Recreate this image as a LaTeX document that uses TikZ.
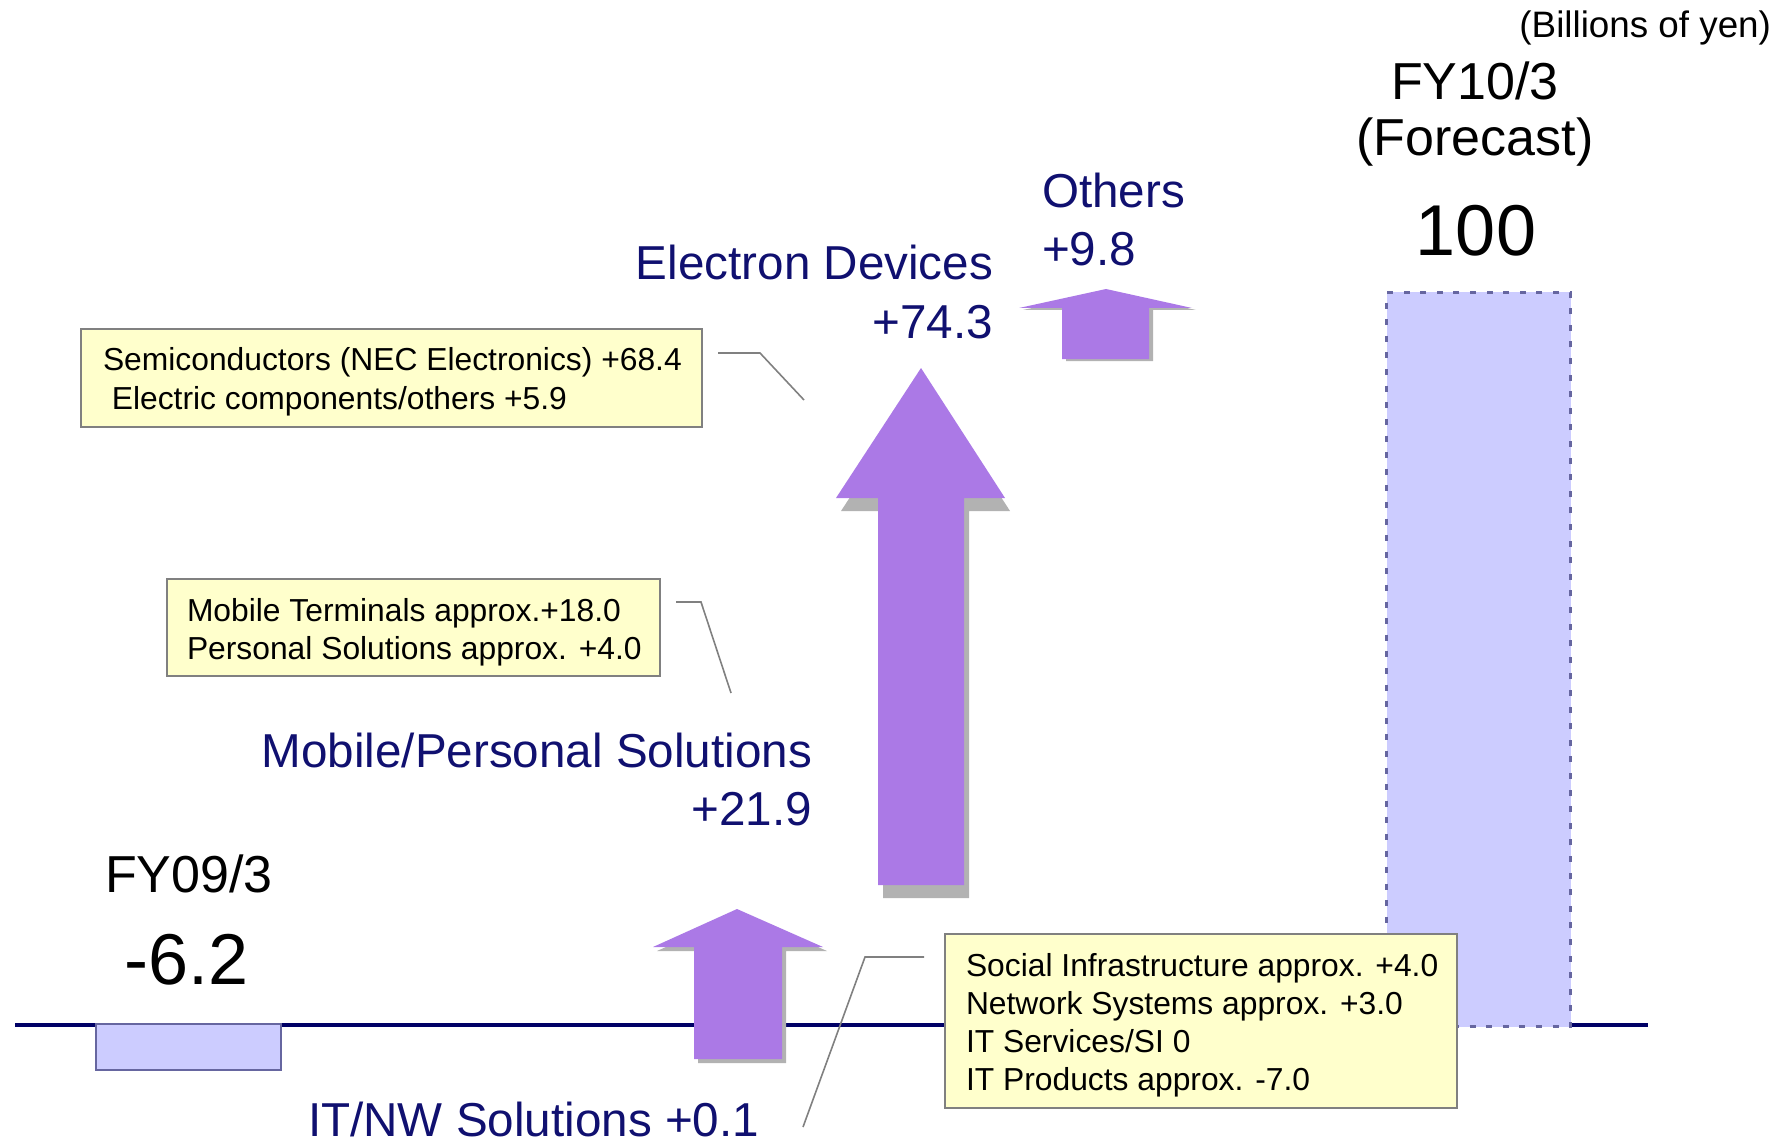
\documentclass[tikz,border=0pt]{standalone}
\usepackage{fontspec}
\setmainfont{Liberation Sans}
\definecolor{navytext}{RGB}{16,16,112}
\definecolor{axisnavy}{RGB}{0,0,102}
\definecolor{arrowpurple}{RGB}{171,121,230}
\definecolor{shadowgray}{RGB}{178,178,178}
\definecolor{barfill}{RGB}{204,204,255}
\definecolor{barline}{RGB}{102,102,160}
\definecolor{calloutfill}{RGB}{255,255,204}
\definecolor{calloutline}{RGB}{128,128,128}
\newcommand\fsz[1]{\fontsize{#1pt}{#1pt}\selectfont}
\begin{document}
\begin{tikzpicture}[x=0.5pt,y=-0.5pt,
  lbl/.style={inner sep=0pt, outer sep=0pt},
  bigblue/.style={lbl, text=navytext, font=\fsz{23.8}},
  bigblack/.style={lbl, text=black, font=\fsz{26}},
  huge/.style={lbl, text=black, font=\fsz{36}},
  small/.style={lbl, text=black, font=\fsz{15.9}},
  calloutbox/.style={draw=calloutline, fill=calloutfill, line width=0.75pt, inner sep=0pt, outer sep=0pt, anchor=north west},
  leader/.style={draw=calloutline, line width=0.8pt},
  arrowfill/.style={fill=arrowpurple},
  shadowfill/.style={fill=shadowgray},
  bar/.style={fill=barfill, draw=barline, line width=1pt}
]
\useasboundingbox (0,0) rectangle (1791,1144);

% axis
\coordinate (axL) at (15,1025);
\coordinate (axR) at (1648,1025);
\draw[axisnavy, line width=1.6pt] (axL) -- (axR);

% FY09/3 bar
\node[bar, anchor=north west, minimum width=92.5pt, minimum height=23pt, inner sep=0pt] (bar09) at (95,1023) {};

% FY10/3 bar
\node[fill=barfill, draw=barline, line width=1.5pt, dash pattern=on 3pt off 5.3pt, anchor=north west, minimum width=92pt, minimum height=367pt, inner sep=0pt] (bar10) at (1385,291) {};

% IT/NW arrow
\fill[shadowfill, shift={(4,4)}] (737,909) -- (823,947) -- (782,947) -- (782,1059) -- (694,1059) -- (694,947) -- (653,947) -- cycle;
\fill[arrowfill] (737,909) -- (823,947) -- (782,947) -- (782,1059) -- (694,1059) -- (694,947) -- (653,947) -- cycle;

% Electron Devices arrow
\fill[shadowfill, shift={(5,13)}] (921,368) -- (1005,498) -- (964,498) -- (964,885) -- (878,885) -- (878,498) -- (836,498) -- cycle;
\fill[arrowfill] (921,368) -- (1005,498) -- (964,498) -- (964,885) -- (878,885) -- (878,498) -- (836,498) -- cycle;

% Others arrow
\fill[shadowfill, shift={(4,2)}] (1106,289) -- (1192,308) -- (1149,308) -- (1149,359) -- (1062,359) -- (1062,308) -- (1019,308) -- cycle;
\fill[arrowfill] (1106,289) -- (1192,308) -- (1149,308) -- (1149,359) -- (1062,359) -- (1062,308) -- (1019,308) -- cycle;

% callout boxes
\node[calloutbox, minimum width=310.5pt, minimum height=49pt] (box1) at (81,329) {};
\node[calloutbox, minimum width=246.5pt, minimum height=48.5pt] (box2) at (167,579) {};
\node[calloutbox, minimum width=256pt, minimum height=87pt] (box3) at (945,934) {};

% leader lines
\coordinate (l1a) at (718,353);
\coordinate (l1b) at (760,353);
\coordinate (l1c) at (804,400);
\draw[leader] (l1a) -- (l1b) -- (l1c);
\coordinate (l2a) at (676,602);
\coordinate (l2b) at (701,602);
\coordinate (l2c) at (731,693);
\draw[leader] (l2a) -- (l2b) -- (l2c);
\coordinate (l3a) at (924,957);
\coordinate (l3b) at (865,957);
\coordinate (l3c) at (803,1127);
\draw[leader] (l3a) -- (l3b) -- (l3c);

% callout texts
\node[small, anchor=base west] (t1a) at (103,370) {Semiconductors (NEC Electronics) +68.4};
\node[small, anchor=base west] (t1b) at (103,409) {\ Electric components/others +5.9};
\node[small, anchor=base west] (t2a) at (187,621) {Mobile Terminals approx.+18.0};
\node[small, anchor=base west] (t2b) at (187,659) {Personal Solutions approx. +4.0};
\node[small, anchor=base west] (t3a) at (966,976) {Social Infrastructure approx. +4.0};
\node[small, anchor=base west] (t3b) at (966,1014) {Network Systems approx. +3.0};
\node[small, anchor=base west] (t3c) at (966,1052) {IT Services/SI 0};
\node[small, anchor=base west] (t3d) at (966,1090) {IT Products approx. -7.0};

% labels
\node[lbl, font=\fsz{18.4}, anchor=base east] (unit) at (1771,38) {(Billions of yen)};
\node[bigblack, anchor=base] (fy10a) at (1475,100) {FY10/3};
\node[bigblack, anchor=base] (fy10b) at (1475,156) {(Forecast)};
\node[huge, anchor=base] (v100) at (1476,256) {100};
\node[bigblack, anchor=base] (fy09) at (189,892) {FY09/3};
\node[huge, anchor=base] (vm62) at (187,984) {-6.2};

\node[bigblue, anchor=base west] (oth) at (1042,208) {Others};
\node[bigblue, anchor=base west] (othv) at (1042,266) {+9.8};
\node[bigblue, anchor=base east] (ed) at (993,280) {Electron Devices};
\node[bigblue, anchor=base east] (edv) at (993,338) {+74.3};
\node[bigblue, anchor=base east] (mps) at (812,767) {Mobile/Personal Solutions};
\node[bigblue, anchor=base east] (mpsv) at (812,825) {+21.9};
\node[bigblue, anchor=base west] (itnw) at (308,1136) {IT/NW Solutions +0.1};
\end{tikzpicture}
\end{document}
